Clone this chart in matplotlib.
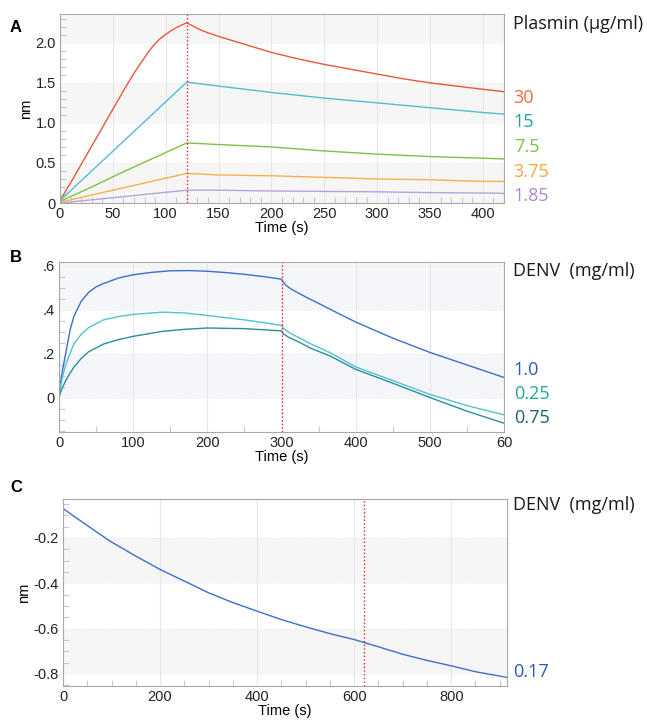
import matplotlib
matplotlib.use("Agg")
import matplotlib.pyplot as plt
from matplotlib.ticker import MultipleLocator, FixedLocator

# ---- data ----
# panel A: plasmin association (0-120 s) and dissociation (120-420 s)
a_time_red = [0, 10, 20, 30, 40, 50, 60, 70, 75, 80, 85, 90, 95, 100, 105, 110, 115, 120,
              125, 130, 135, 140, 150, 160, 170, 180, 200, 225, 250, 275, 300, 325, 350, 375, 400, 420]
a_red = [0.03, 0.25, 0.48, 0.71, 0.94, 1.17, 1.40, 1.62, 1.72, 1.815, 1.91, 1.99, 2.055, 2.105, 2.15,
         2.19, 2.22, 2.25,
         2.215, 2.18, 2.15, 2.125, 2.08, 2.04, 2.00, 1.96, 1.88, 1.80, 1.73, 1.67, 1.61, 1.55, 1.50,
         1.46, 1.42, 1.39]
a_time = [0, 30, 60, 90, 120, 150, 200, 250, 300, 350, 400, 420]
a_cyan = [0.03, 0.40, 0.77, 1.14, 1.51, 1.46, 1.38, 1.31, 1.25, 1.19, 1.13, 1.11]
a_green = [0.02, 0.20, 0.39, 0.57, 0.75, 0.73, 0.70, 0.65, 0.61, 0.58, 0.56, 0.55]
a_orange = [0.01, 0.10, 0.19, 0.28, 0.37, 0.35, 0.34, 0.32, 0.30, 0.29, 0.27, 0.27]
a_purple = [0.0, 0.04, 0.08, 0.12, 0.16, 0.16, 0.15, 0.145, 0.14, 0.13, 0.125, 0.12]
a_labels = ["30", "15", "7.5", "3.75", "1.85"]
a_line_colors = ["#e8583c", "#4fbfd0", "#7cc243", "#f5b24a", "#b7a3dc"]
a_text_colors = ["#ef6a3e", "#1fa3a0", "#7cc243", "#f6a640", "#a68ccc"]

# panel B: DENV association (0-300 s) and dissociation (300-600 s)
b_time_blue = [0, 2, 5, 10, 15, 20, 30, 40, 50, 60, 80, 100, 125, 150, 175, 200, 225, 250, 275, 300,
               302, 306, 312, 320, 335, 350, 375, 400, 450, 500, 550, 600]
b_blue = [0.0, 0.07, 0.13, 0.22, 0.31, 0.37, 0.44, 0.48, 0.505, 0.52, 0.545, 0.56, 0.571, 0.578, 0.579,
          0.576, 0.57, 0.562, 0.552, 0.54,
          0.528, 0.512, 0.497, 0.482, 0.455, 0.43, 0.387, 0.345, 0.272, 0.207, 0.15, 0.093]
b_time = [0, 2, 5, 10, 20, 30, 40, 60, 80, 100, 140, 170, 200, 250, 300,
          303, 310, 320, 340, 366, 400, 450, 500, 550, 600]
b_cyan = [0.0, 0.05, 0.10, 0.16, 0.245, 0.29, 0.32, 0.355, 0.37, 0.38, 0.39, 0.386, 0.375, 0.355, 0.33,
          0.315, 0.298, 0.28, 0.245, 0.205, 0.141, 0.079, 0.016, -0.035, -0.077]
b_teal = [0.0, 0.025, 0.05, 0.085, 0.14, 0.18, 0.21, 0.245, 0.265, 0.28, 0.303, 0.312, 0.318, 0.315, 0.305,
          0.29, 0.275, 0.26, 0.225, 0.19, 0.13, 0.067, 0.002, -0.06, -0.115]
b_labels = ["1.0", "0.25", "0.75"]
b_line_colors = ["#3c6fcc", "#52c2cc", "#2a8f9c"]
b_text_colors = ["#2a5db2", "#1fa59a", "#1e5f70"]

# panel C: single dissociation trace
c_time = [0, 25, 50, 75, 100, 150, 200, 250, 300, 350, 400, 450, 500, 550,
          600, 650, 700, 750, 800, 850, 915]
c_blue = [-0.07, -0.108, -0.145, -0.182, -0.218, -0.28, -0.339, -0.39, -0.442, -0.485, -0.523, -0.56,
          -0.592, -0.622, -0.648, -0.68, -0.713, -0.74, -0.764, -0.79, -0.815]
c_labels = ["0.17"]
c_text_colors = ["#2a5db2"]

plt.rcParams['font.family'] = ['Liberation Sans', 'DejaVu Sans']
LABEL_FONT = ['Open Sans', 'DejaVu Sans']

fig = plt.figure(figsize=(6.47, 7.24), dpi=100)
axA = fig.add_axes([0.0927, 0.7196, 0.6862, 0.2611])
axB = fig.add_axes([0.0912, 0.4033, 0.6878, 0.2348])
axC = fig.add_axes([0.0974, 0.0525, 0.6862, 0.2583])


def style(ax, bands, band_color):
    for lo, hi in bands:
        ax.axhspan(lo, hi, color=band_color, lw=0, zorder=0)
    ax.grid(True, which='major', axis='x', color='#e6e6ee', lw=0.8, zorder=0.5)
    ax.grid(True, which='major', axis='y', color='#e8e8e8', lw=0.6, ls=':', zorder=0.5)
    for s in ax.spines.values():
        s.set_color('#a8a8a8')
    ax.tick_params(which='major', direction='in', length=0, labelsize=10.5,
                   labelcolor='#222222', pad=3)
    ax.tick_params(which='minor', direction='in', length=4, color='#c6c6dc', width=0.8)
    ax.set_xlabel("Time (s)", fontsize=10.5, labelpad=0)


# ---- panel A ----
style(axA, [(2.0, 2.4), (1.0, 1.5), (0.0, 0.5)], '#f6f6f7')
axA.plot(a_time_red, a_red, color=a_line_colors[0], lw=1)
for vals, col in zip([a_cyan, a_green, a_orange, a_purple], a_line_colors[1:]):
    axA.plot(a_time, vals, color=col, lw=1)
axA.axvline(120, color='#e82020', lw=1, ls=':')
axA.set_xlim(0, 420)
axA.set_ylim(0, 2.36)
axA.set_xticks([0, 50, 100, 150, 200, 250, 300, 350, 400])
axA.set_yticks([0, 0.5, 1.0, 1.5, 2.0])
axA.set_yticklabels(["0", "0.5", "1.0", "1.5", "2.0"])
axA.xaxis.set_minor_locator(MultipleLocator(10))
axA.yaxis.set_minor_locator(MultipleLocator(0.1))
axA.set_ylabel("nm", fontsize=10.5, labelpad=2)
axA.text(1.02, 0.947, "Plasmin (µg/ml)", transform=axA.transAxes, fontsize=13,
         family=LABEL_FONT, color='#1a1a1a', va='center', ha='left')
for lab, col, y in zip(a_labels, a_text_colors, [0.556, 0.429, 0.296, 0.164, 0.037]):
    axA.text(1.022, y, lab, transform=axA.transAxes, fontsize=13,
             family=LABEL_FONT, color=col, va='center', ha='left')

# ---- panel B ----
style(axB, [(0.4, 0.7), (0.0, 0.2)], '#f5f6f9')
axB.plot(b_time_blue, b_blue, color=b_line_colors[0], lw=1)
axB.plot(b_time, b_cyan, color=b_line_colors[1], lw=1)
axB.plot(b_time, b_teal, color=b_line_colors[2], lw=1)
axB.axvline(300, color='#e82020', lw=1, ls=':')
axB.set_xlim(0, 600)
axB.set_ylim(-0.155, 0.618)
axB.set_xticks([0, 100, 200, 300, 400, 500, 600])
axB.set_xticklabels(["0", "100", "200", "300", "400", "500", "60"])
axB.set_yticks([0, 0.2, 0.4, 0.6])
axB.set_yticklabels(["0", ".2", ".4", ".6"])
axB.xaxis.set_minor_locator(FixedLocator([50, 150, 250, 350, 450, 550]))
axB.yaxis.set_minor_locator(MultipleLocator(0.05))
axB.text(1.02, 0.947, "DENV  (mg/ml)", transform=axB.transAxes, fontsize=13,
         family=LABEL_FONT, color='#1a1a1a', va='center', ha='left')
for lab, col, y in zip(b_labels, b_text_colors, [0.365, 0.224, 0.082]):
    axB.text(1.022, y, lab, transform=axB.transAxes, fontsize=13,
             family=LABEL_FONT, color=col, va='center', ha='left')

# ---- panel C ----
style(axC, [(-0.4, -0.2), (-0.8, -0.6)], '#f6f6f7')
axC.plot(c_time, c_blue, color=b_line_colors[0], lw=1)
axC.axvline(620, color='#e82020', lw=1, ls=':')
axC.set_xlim(0, 915)
axC.set_ylim(-0.853, -0.028)
axC.set_xticks([0, 200, 400, 600, 800])
axC.set_yticks([-0.8, -0.6, -0.4, -0.2])
axC.set_yticklabels(["-0.8", "-0.6", "-0.4", "-0.2"])
axC.xaxis.set_minor_locator(MultipleLocator(50))
axC.yaxis.set_minor_locator(MultipleLocator(0.05))
axC.set_ylabel("nm", fontsize=10.5, labelpad=2)
axC.text(1.013, 0.968, "DENV  (mg/ml)", transform=axC.transAxes, fontsize=13,
         family=LABEL_FONT, color='#1a1a1a', va='center', ha='left')
for lab, col in zip(c_labels, c_text_colors):
    axC.text(1.013, 0.075, lab, transform=axC.transAxes, fontsize=13,
             family=LABEL_FONT, color=col, va='center', ha='left')

# panel letters
for letter, y in zip(["A", "B", "C"], [28, 258, 488]):
    fig.text(10 / 647, 1 - y / 724, letter, fontsize=12, fontweight='bold',
             va='center', ha='left')

fig.savefig("out.png", dpi=100)
